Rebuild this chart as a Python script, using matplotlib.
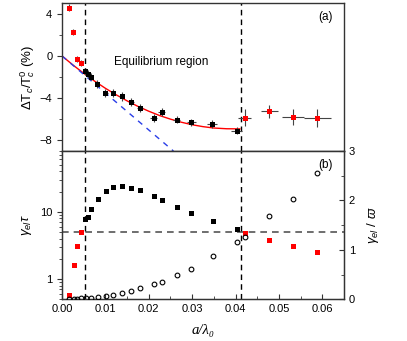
import numpy as np
import matplotlib
matplotlib.use("Agg")
import matplotlib.pyplot as plt
from matplotlib.ticker import MultipleLocator, LogLocator, NullFormatter, FixedLocator

plt.rcParams['font.family'] = ['Liberation Sans', 'DejaVu Sans']
plt.rcParams['mathtext.fontset'] = 'custom'
plt.rcParams['mathtext.rm'] = 'Liberation Sans'
plt.rcParams['mathtext.it'] = 'Liberation Sans:italic'

# panel (a): shift of Tc, black = equilibrium region, red = outside
xa_black = [0.0054, 0.0059, 0.0067, 0.0081, 0.0100, 0.0117, 0.0138, 0.0160, 0.0180,
            0.0211, 0.0230, 0.0264, 0.0298, 0.0346, 0.0403]
ya_black = [-1.47, -1.70, -1.95, -2.63, -3.51, -3.51, -3.83, -4.36, -4.92,
            -5.86, -5.33, -6.02, -6.27, -6.43, -7.06]
xerr_black = [0.0003, 0.0003, 0.0004, 0.0004, 0.0005, 0.0005, 0.0006, 0.0006, 0.0007,
              0.0008, 0.0008, 0.0009, 0.0010, 0.0011, 0.0013]
yerr_black = [0.35, 0.35, 0.35, 0.38, 0.4, 0.4, 0.4, 0.4, 0.4,
              0.4, 0.4, 0.35, 0.35, 0.35, 0.35]

xa_red = [0.0016, 0.0025, 0.0035, 0.0044, 0.0421, 0.0478, 0.0533, 0.0589]
ya_red = [4.58, 2.26, -0.28, -0.69, -5.86, -5.24, -5.77, -5.86]
xerr_red = [0.0, 0.0, 0.0, 0.0, 0.0015, 0.002, 0.0025, 0.003]
yerr_red = [0.3, 0.3, 0.3, 0.3, 0.8, 0.6, 0.75, 0.85]

# fit curve and linear slope
x_fit = [0, 0.0025, 0.005, 0.0075, 0.01, 0.0125, 0.015, 0.0175, 0.02,
         0.0225, 0.025, 0.0275, 0.03, 0.0325, 0.035, 0.038, 0.041]
y_fit = [0, -0.85, -1.64, -2.38, -3.06, -3.68, -4.25, -4.77, -5.23,
         -5.64, -5.98, -6.27, -6.51, -6.69, -6.82, -6.89, -6.90]
x_lin = [0, 0.0257]
y_lin = [0, -9.0]

# panel (b)
xb_black = [0.0054, 0.0059, 0.0067, 0.0082, 0.0102, 0.0117, 0.0138, 0.0160, 0.0180,
            0.0211, 0.0231, 0.0266, 0.0298, 0.0347, 0.0403]
yb_black = [7.9, 8.3, 10.85, 15.4, 20.1, 23.5, 23.8, 22.5, 20.8,
            17.3, 14.9, 11.9, 9.7, 7.2, 5.46]
xb_red = [0.0017, 0.0028, 0.0035, 0.0043, 0.0422, 0.0478, 0.0533, 0.0589]
yb_red = [0.585, 1.63, 3.06, 4.94, 4.88, 3.84, 3.06, 2.52]
xb_circ = [0.0017, 0.0028, 0.0035, 0.0043, 0.0056, 0.0067, 0.0082, 0.0102, 0.0117,
           0.0138, 0.0160, 0.0180, 0.0211, 0.0231, 0.0266, 0.0298, 0.0347, 0.0403,
           0.0422, 0.0478, 0.0533, 0.0589]
yb_circ = [0.01, 0.01, 0.01, 0.02, 0.02, 0.03, 0.04, 0.06, 0.09,
           0.13, 0.17, 0.23, 0.30, 0.36, 0.50, 0.62, 0.88, 1.16,
           1.27, 1.69, 2.03, 2.55]

x_lines = [0.0052, 0.0412]
y_hline = 5

fig = plt.figure(figsize=(4.07, 3.41), dpi=100)
ax1 = fig.add_axes([0.1523, 0.557, 0.6928, 0.434])
ax2 = fig.add_axes([0.1523, 0.1223, 0.6928, 0.4347])

spine_c = '#333333'
for ax in (ax1, ax2):
    for s in ax.spines.values():
        s.set_color(spine_c)
        s.set_linewidth(1.0)
    ax.set_xlim(0, 0.065)

# ---- panel (a)
ax1.plot(x_fit, y_fit, color='red', lw=1.0, zorder=2)
ax1.plot(x_lin, y_lin, color='#2a3ee8', lw=1.0, ls=(0, (4, 4)), zorder=2)
ax1.errorbar(xa_black, ya_black, xerr=xerr_black, yerr=yerr_black, fmt='s', ms=3.6, mew=0,
             color='black', ecolor='#444444', elinewidth=0.8, capsize=2, capthick=0.8, zorder=3)
ax1.errorbar(xa_red, ya_red, xerr=xerr_red, yerr=yerr_red, fmt='s', ms=3.6, mew=0,
             color='red', ecolor='#444444', elinewidth=0.8, capsize=2, capthick=0.8, zorder=3)
for xv in x_lines:
    ax1.axvline(xv, color='black', lw=1.0, ls=(0, (4, 3)), zorder=1)
ax1.set_ylim(-9, 5)
ax1.yaxis.set_major_locator(MultipleLocator(4))
ax1.yaxis.set_minor_locator(MultipleLocator(2))
ax1.xaxis.set_major_locator(MultipleLocator(0.005))
ax1.tick_params(axis='x', which='both', direction='out', length=3.5, labelbottom=False,
                color=spine_c)
ax1.tick_params(axis='y', which='major', direction='out', length=3.5, labelsize=8, color=spine_c)
ax1.tick_params(axis='y', which='minor', direction='out', length=2.5, color=spine_c)
ax1.set_ylabel(r'$\Delta$T$_c$/T$_c^0$ (%)', fontsize=9.5, labelpad=2)
ax1.text(0.0121, -0.56, 'Equilibrium region', fontsize=8.5, va='center')
ax1.text(0.0625, 3.7, '(a)', fontsize=8.5, ha='right', va='center')

# ---- panel (b)
ax2.set_yscale('log')
ax2.set_ylim(0.5, 80)
ax2.axhline(y_hline, color='#555555', lw=1.2, ls=(0, (4, 3)), zorder=1)
for xv in x_lines:
    ax2.axvline(xv, color='black', lw=1.0, ls=(0, (4, 3)), zorder=1)
ax2.plot(xb_black, yb_black, 's', ms=3.6, mew=0, color='black', zorder=3)
ax2.plot(xb_red, yb_red, 's', ms=3.6, mew=0, color='red', zorder=3)
ax2.yaxis.set_major_locator(FixedLocator([1, 10]))
ax2.yaxis.set_major_formatter(matplotlib.ticker.FixedFormatter(['1', '10']))
ax2.yaxis.set_minor_locator(LogLocator(base=10, subs=np.arange(2, 10)))
ax2.yaxis.set_minor_formatter(NullFormatter())
ax2.xaxis.set_major_locator(MultipleLocator(0.01))
ax2.xaxis.set_minor_locator(MultipleLocator(0.005))
ax2.xaxis.set_major_formatter(matplotlib.ticker.FormatStrFormatter('%.2f'))
ax2.tick_params(axis='x', which='major', direction='in', length=3.5, labelsize=8, color=spine_c)
ax2.tick_params(axis='x', which='minor', direction='in', length=2.5, color=spine_c)
ax2.tick_params(axis='y', which='major', direction='out', length=3.5, labelsize=8, color=spine_c)
ax2.tick_params(axis='y', which='minor', direction='out', length=2.5, color=spine_c)
ax2.set_ylabel(r'$\gamma_{el}\tau$', fontsize=9.5, labelpad=4)
ax2.set_xlabel('a/λ₀', fontsize=10.5, family=['Liberation Serif', 'DejaVu Serif'],
               style='italic', labelpad=7)
ax2.text(0.0625, 50, '(b)', fontsize=8.5, ha='right', va='center')

ax3 = ax2.twinx()
ax3.set_ylim(0, 3)
ax3.plot(xb_circ, yb_circ, 'o', ms=3.4, mfc='none', mec='black', mew=0.8, zorder=3)
ax3.yaxis.set_major_locator(MultipleLocator(1))
ax3.yaxis.set_minor_locator(MultipleLocator(0.5))
ax3.tick_params(axis='y', which='major', direction='in', length=3.5, labelsize=8, color=spine_c)
ax3.tick_params(axis='y', which='minor', direction='in', length=2.5, color=spine_c)
ax3.set_ylabel(r'$\gamma_{el}$ / $\varpi$', fontsize=9.5, rotation=90, labelpad=7)
for s in ax3.spines.values():
    s.set_color(spine_c)
ax3.set_xlim(0, 0.065)

fig.savefig('out.png', dpi=100)
